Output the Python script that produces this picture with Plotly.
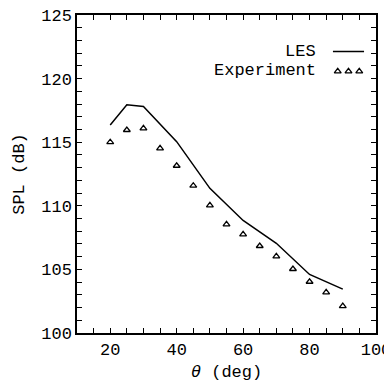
import plotly.graph_objects as go

les_theta = [20, 25, 30, 40, 50, 60, 70, 80, 90]
les_spl = [116.35, 117.95, 117.8, 115.04, 111.37, 108.85, 107.05, 104.6, 103.45]

exp_theta = [20, 25, 30, 35, 40, 45, 50, 55, 60, 65, 70, 75, 80, 85, 90]
exp_spl = [115.0, 115.96, 116.09, 114.52, 113.15, 111.58, 110.04, 108.54, 107.76,
           106.84, 106.03, 105.03, 104.03, 103.2, 102.12]

FONT = "Liberation Mono"
FS = 17
XR = [10, 100]
YR = [100, 125]

def px(f):
    return XR[0] + (XR[1] - XR[0]) * f

def py(f):
    return YR[0] + (YR[1] - YR[0]) * f

fig = go.Figure()
fig.add_trace(go.Scatter(x=les_theta, y=les_spl, mode="lines", name="LES",
                         line=dict(color="black", width=1.5), showlegend=False))
fig.add_trace(go.Scatter(x=exp_theta, y=exp_spl, mode="markers", name="Experiment",
                         marker=dict(symbol="triangle-up-open", size=6, color="black",
                                     line=dict(width=1.3, color="black")),
                         showlegend=False))

# manual legend (text left, glyph right)
fig.add_annotation(x=0.805, y=0.885, xref="paper", yref="paper", text="LES",
                   showarrow=False, xanchor="right", yanchor="middle",
                   font=dict(family=FONT, size=FS, color="black"))
fig.add_annotation(x=0.805, y=0.825, xref="paper", yref="paper", text="Experiment",
                   showarrow=False, xanchor="right", yanchor="middle",
                   font=dict(family=FONT, size=FS, color="black"))
fig.add_shape(type="line", xref="paper", yref="paper", x0=0.856, x1=0.96,
              y0=0.885, y1=0.885, line=dict(color="black", width=1.5))
fig.add_trace(go.Scatter(x=[px(0.872), px(0.908), px(0.944)], y=[py(0.823)] * 3,
                         mode="markers", showlegend=False, hoverinfo="skip",
                         marker=dict(symbol="triangle-up-open", size=6, color="black",
                                     line=dict(width=1.3, color="black"))))

axis_common = dict(showline=True, linecolor="black", linewidth=1.5, mirror="ticks",
                   ticks="inside", ticklen=5, tickwidth=1, tickcolor="black",
                   showgrid=False, zeroline=False, automargin=False,
                   ticklabeloverflow="allow",
                   tickfont=dict(family=FONT, size=FS, color="black"))

# page body has an 8px default margin: shrink the figure to compensate
fig.update_layout(
    width=384, height=376,
    margin=dict(l=69, r=16, t=7, b=51),
    paper_bgcolor="white", plot_bgcolor="white",
    xaxis=dict(range=XR, tickmode="linear", tick0=0, dtick=20,
               minor=dict(dtick=5, tick0=0, ticks="inside", ticklen=5, tickcolor="black",
                          tickwidth=1),
               title=dict(text="<i>θ</i> (deg)", font=dict(family=FONT, size=FS, color="black"),
                          standoff=6),
               **axis_common),
    yaxis=dict(range=YR, tickmode="linear", tick0=100, dtick=5,
               minor=dict(dtick=1, tick0=100, ticks="inside", ticklen=5, tickcolor="black",
                          tickwidth=1),
               title=dict(text="SPL (dB)", font=dict(family=FONT, size=FS, color="black"),
                          standoff=12),
               **axis_common),
)

fig.write_html("out.html")
